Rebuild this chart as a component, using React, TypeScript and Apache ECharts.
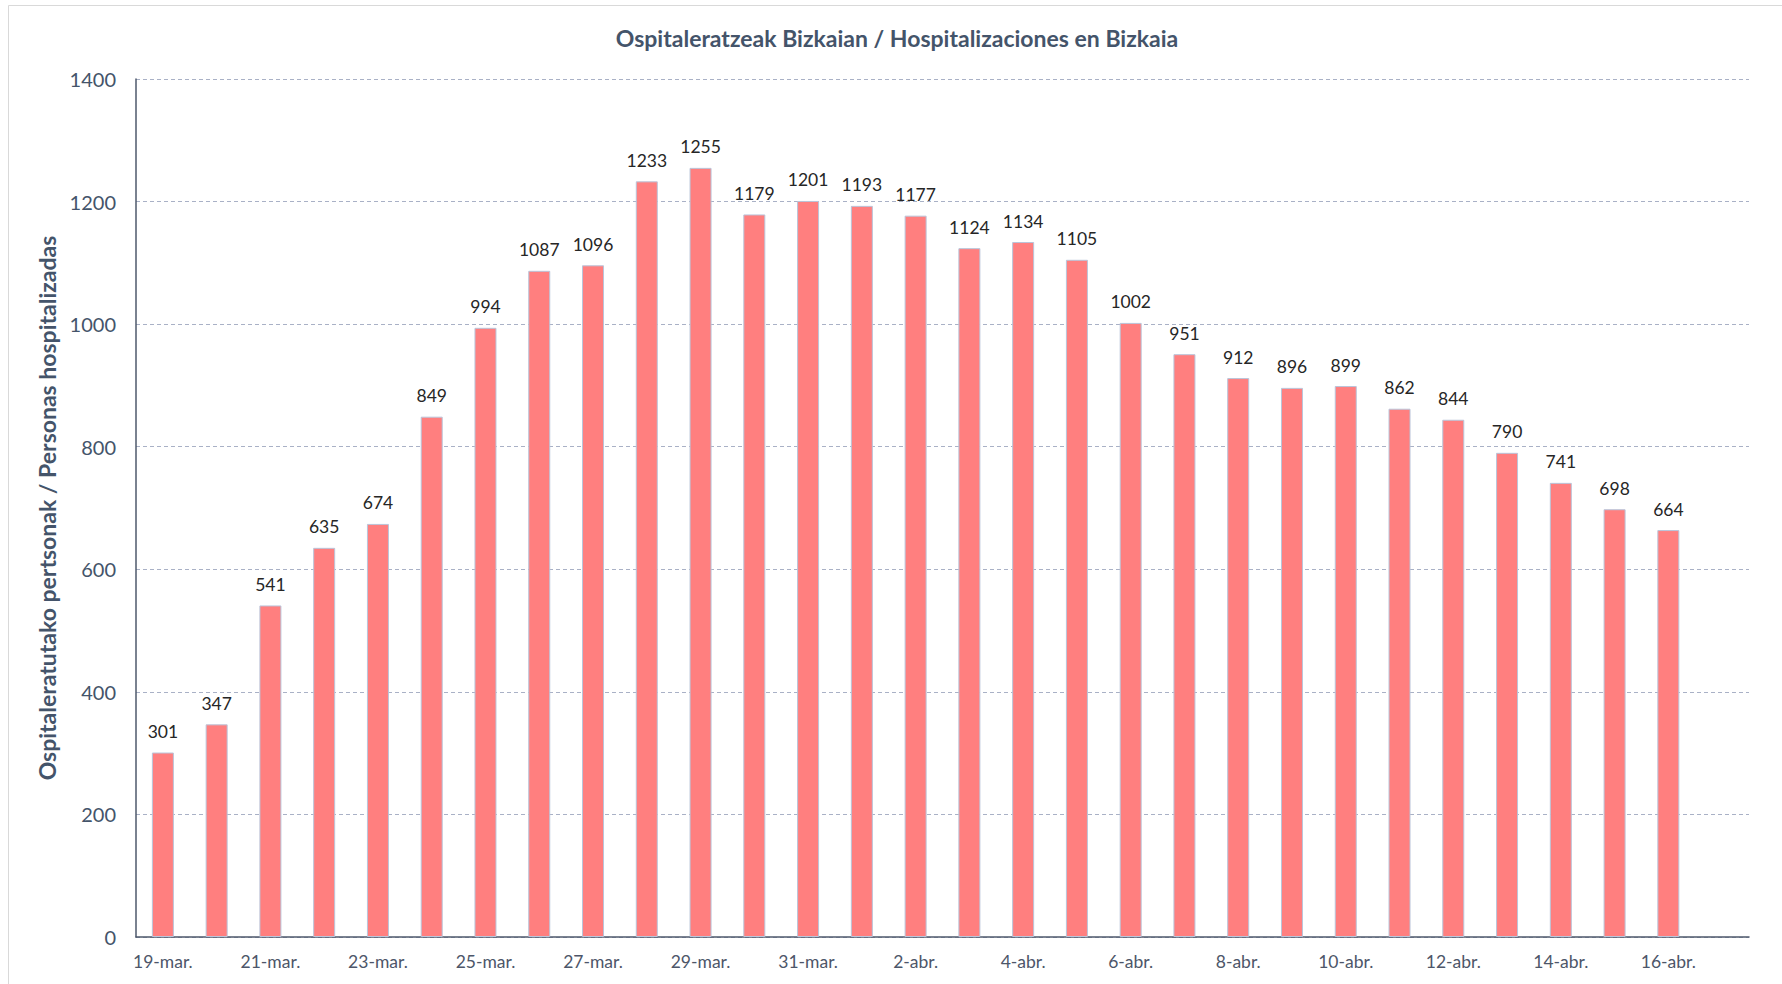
import React, { useEffect, useRef } from "react";
import * as echarts from "echarts";

const categories = [
  "19-mar.", "20-mar.", "21-mar.", "22-mar.", "23-mar.", "24-mar.", "25-mar.", "26-mar.",
  "27-mar.", "28-mar.", "29-mar.", "30-mar.", "31-mar.", "1-abr.", "2-abr.", "3-abr.",
  "4-abr.", "5-abr.", "6-abr.", "7-abr.", "8-abr.", "9-abr.", "10-abr.", "11-abr.",
  "12-abr.", "13-abr.", "14-abr.", "15-abr.", "16-abr.", "17-abr.",
];
const hospitalized = [
  301, 347, 541, 635, 674, 849, 994, 1087, 1096, 1233, 1255, 1179, 1201, 1193, 1177, 1124,
  1134, 1105, 1002, 951, 912, 896, 899, 862, 844, 790, 741, 698, 664,
];
const titleText = "Ospitaleratzeak Bizkaian / Hospitalizaciones en Bizkaia";
const yAxisTitle = "Ospitaleratutako pertsonak / Personas hospitalizadas";

export default function App() {
  const ref = useRef<HTMLDivElement>(null);
  useEffect(() => {
    if (!ref.current) return;
    const chart = echarts.init(ref.current, undefined, { renderer: "svg" });
    const font = "Lato, 'Open Sans', sans-serif";
    chart.setOption({
      animation: false,
      backgroundColor: "#ffffff",
      textStyle: { fontFamily: font },
      title: {
        text: titleText,
        left: 892,
        top: 21,
        textAlign: "center",
        textStyle: { fontFamily: font, fontSize: 23, fontWeight: "bold", color: "#44546a" },
      },
      graphic: [
        {
          type: "rect",
          shape: { x: 8.5, y: 5.5, width: 1790, height: 1000 },
          style: { fill: "none", stroke: "#d9d9d9", lineWidth: 1 },
          silent: true,
          z: -10,
        },
      ],
      grid: { left: 136, right: 33, top: 79, bottom: 47, containLabel: false },
      xAxis: {
        type: "category",
        data: categories,
        axisLine: { show: true, lineStyle: { color: "#4e586b", width: 1.5 } },
        axisTick: { show: false },
        axisLabel: {
          interval: 1,
          margin: 15,
          fontSize: 17.5,
          color: "#4d5669",
          fontFamily: font,
        },
      },
      yAxis: {
        type: "value",
        min: 0,
        max: 1400,
        interval: 200,
        name: yAxisTitle,
        nameLocation: "middle",
        nameGap: 67,
        nameTextStyle: { fontFamily: font, fontSize: 23, fontWeight: "bold", color: "#44546a" },
        axisLine: { show: true, lineStyle: { color: "#4e586b", width: 1.5 } },
        axisTick: { show: false },
        axisLabel: {
          margin: 20,
          fontSize: 20,
          color: "#44546a",
          fontFamily: font,
          formatter: (v: number) => String(v),
        },
        splitLine: { show: true, lineStyle: { color: "#a9b1c6", type: [4, 3], width: 1 } },
      },
      series: [
        {
          type: "bar",
          data: hospitalized,
          barWidth: 22,
          itemStyle: { color: "#ff7f7f", borderColor: "#b9c5da", borderWidth: 1 },
          label: {
            show: true,
            position: "top",
            distance: 12,
            fontSize: 17.5,
            color: "#262626",
            fontFamily: font,
          },
        },
      ],
    });
    return () => chart.dispose();
  }, []);
  return (
    <div
      ref={ref}
      style={{ position: "fixed", left: 0, top: 0, width: 1782, height: 984 }}
    />
  );
}
